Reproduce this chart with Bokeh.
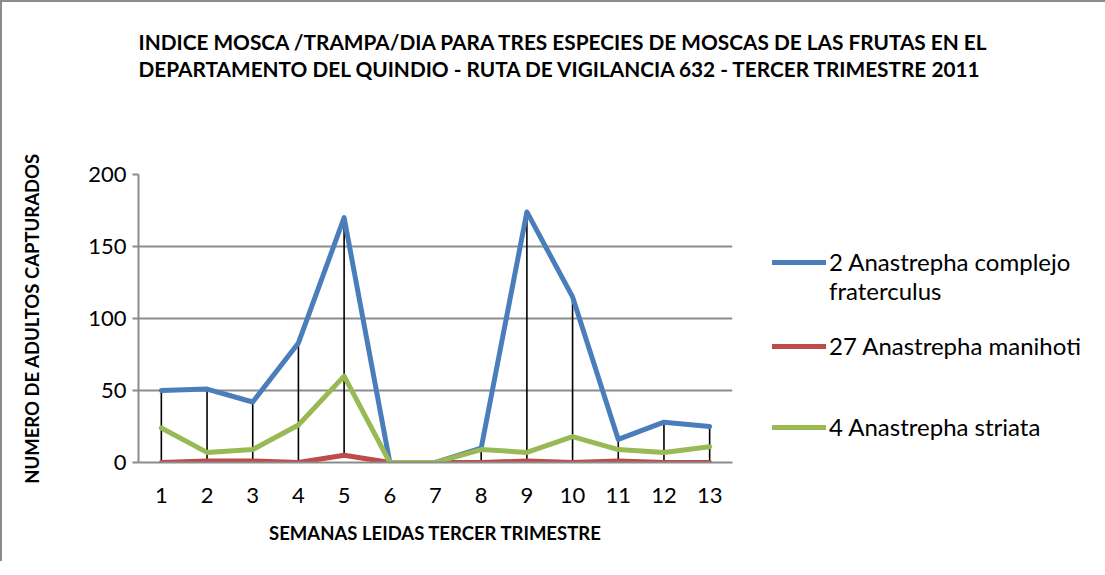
from bokeh.plotting import figure
from bokeh.models import Range1d, FixedTicker, Title, Legend, LegendItem
from bokeh.embed import file_html
from bokeh.resources import INLINE

weeks = [1, 2, 3, 4, 5, 6, 7, 8, 9, 10, 11, 12, 13]
fraterculus = [50, 51, 42, 83, 170, 0, 0, 10, 174, 115, 16, 28, 25]
manihoti = [0, 1, 1, 0, 5, 0, 0, 0, 1, 0, 1, 0, 0]
striata = [24, 7, 9, 26, 60, 0, 0, 9, 7, 18, 9, 7, 11]
series_names = ["2 Anastrepha complejo", "27 Anastrepha manihoti", "4 Anastrepha striata"]
name_continuation = "fraterculus"
colors = ["#4A7EBB", "#BE4B48", "#98B954"]
title_lines = ["INDICE MOSCA /TRAMPA/DIA PARA TRES ESPECIES DE MOSCAS DE LAS FRUTAS EN EL",
               "DEPARTAMENTO DEL QUINDIO - RUTA DE VIGILANCIA 632 - TERCER TRIMESTRE 2011"]
x_title = "SEMANAS LEIDAS TERCER TRIMESTRE"
y_title = "NUMERO DE ADULTOS CAPTURADOS"

FONT = "Lato"
FL, FT = 136, 172           # frame offsets in figure pixels
FW, FH = 594, 288           # frame size
RB, BB = 359, 99            # right / bottom borders

p = figure(frame_width=FW, frame_height=FH, output_backend="svg", toolbar_location=None,
           x_range=Range1d(0.5, 13.5), y_range=Range1d(0, 200),
           min_border_left=FL, min_border_right=RB,
           min_border_top=FT, min_border_bottom=BB)
p.outline_line_color = None
p.styles = {"border-left": "2px solid #8c8c8c", "border-top": "2px solid #8c8c8c"}

# axes
p.xaxis.ticker = FixedTicker(ticks=weeks)
p.xaxis.major_tick_line_color = None
p.xaxis.minor_tick_line_color = None
p.xaxis.axis_line_color = "#8c8c8c"
p.xaxis.axis_line_width = 2
p.xaxis.major_label_text_font = FONT
p.xaxis.major_label_text_font_size = "22px"
p.xaxis.major_label_text_color = "#000000"
p.xaxis.major_label_standoff = 19
p.xaxis.axis_label = x_title
p.xaxis.axis_label_text_font = FONT
p.xaxis.axis_label_text_font_style = "bold"
p.xaxis.axis_label_text_font_size = "18.5px"
p.xaxis.axis_label_text_color = "#000000"
p.xaxis.axis_label_standoff = 16

p.yaxis.ticker = FixedTicker(ticks=[0, 50, 100, 150, 200])
p.yaxis.minor_tick_line_color = None
p.yaxis.axis_line_color = "#8c8c8c"
p.yaxis.axis_line_width = 2
p.yaxis.major_tick_line_color = "#8c8c8c"
p.yaxis.major_tick_line_width = 2
p.yaxis.major_tick_out = 6
p.yaxis.major_tick_in = 0
p.yaxis.major_label_text_font = FONT
p.yaxis.major_label_text_font_size = "22px"
p.yaxis.major_label_text_color = "#000000"
p.yaxis.major_label_standoff = 6
p.yaxis.axis_label = y_title
p.yaxis.axis_label_text_font = FONT
p.yaxis.axis_label_text_font_style = "bold"
p.yaxis.axis_label_text_font_size = "18.5px"
p.yaxis.axis_label_text_color = "#000000"
p.yaxis.axis_label_standoff = 42

p.xgrid.grid_line_color = None
p.ygrid.grid_line_color = "#8c8c8c"
p.ygrid.grid_line_width = 2
p.ygrid.ticker = FixedTicker(ticks=[50, 100, 150, 200])

# high-low drop lines
hi = [max(a, b, c) for a, b, c in zip(fraterculus, manihoti, striata)]
lo = [min(a, b, c) for a, b, c in zip(fraterculus, manihoti, striata)]
p.segment(x0=weeks, y0=lo, x1=weeks, y1=hi, line_color="black", line_width=1.6)

renderers = []
for ys, c in zip([fraterculus, manihoti, striata], colors):
    r = p.line(weeks, ys, line_color=c, line_width=5, line_cap="round", line_join="round")
    renderers.append(r)

# transparent placeholder renderer for continuation / spacer legend rows
blank = p.line([], [], line_alpha=0)

# title (two text lines followed by blank lines that keep it near the top)
title_text = "\n".join(title_lines) + "\n\n\n"
p.add_layout(Title(text=title_text, align="left", offset=0, standoff=24,
                   text_font=FONT, text_font_style="bold", text_font_size="20.8px",
                   text_line_height=1.09, text_color="#000000"), "above")

# legend in the right-hand panel
items = [
    LegendItem(label=series_names[0], renderers=[renderers[0]]),
    LegendItem(label=name_continuation, renderers=[blank]),
    LegendItem(label=" ", renderers=[blank]),
    LegendItem(label=series_names[1], renderers=[renderers[1]]),
    LegendItem(label=" ", renderers=[blank]),
    LegendItem(label=" ", renderers=[blank]),
    LegendItem(label=series_names[2], renderers=[renderers[2]]),
]
ROW = 26
leg = Legend(items=items, location=(40, 21), border_line_color=None,
             background_fill_alpha=0, padding=0, margin=0, spacing=0,
             glyph_width=54, glyph_height=ROW, label_height=ROW,
             label_standoff=3, label_text_font=FONT, label_text_font_size="24px",
             label_text_color="#000000", label_text_baseline="middle")
p.add_layout(leg, "right")

open("out.html", "w").write(file_html(p, INLINE))
